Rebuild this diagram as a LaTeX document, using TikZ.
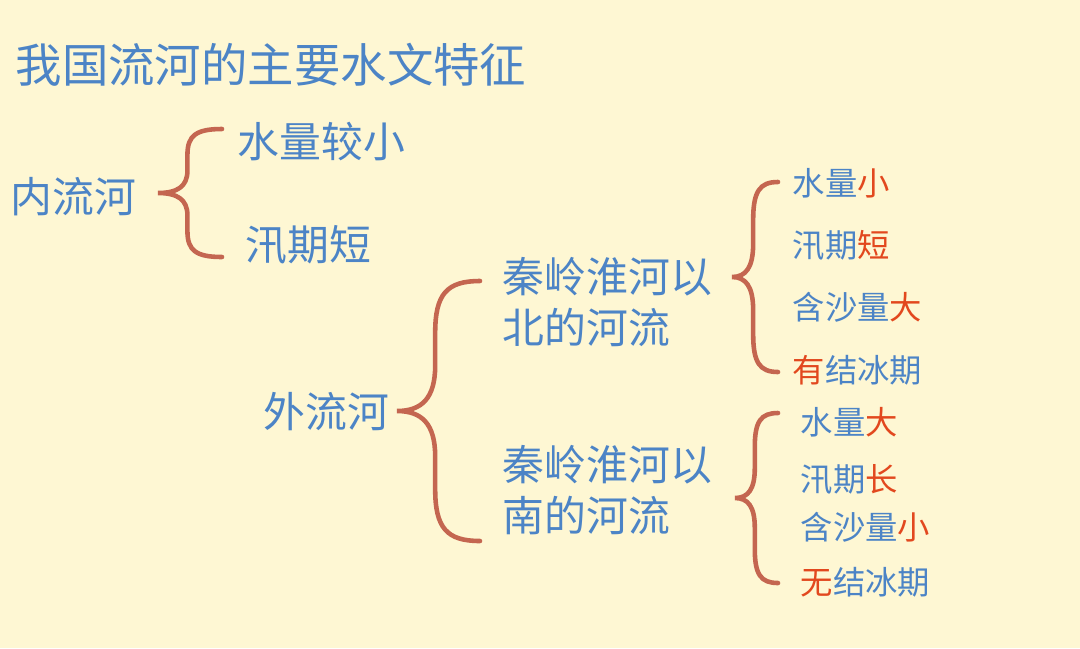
\documentclass[tikz,border=0pt]{standalone}
\usepackage{xcolor}
\usepackage{tikz}
\usepackage{fontspec}
\newfontfamily\cjk{Noto Sans CJK SC}
\definecolor{lan}{RGB}{76,132,198}
\definecolor{hong}{RGB}{226,72,30}
\definecolor{zong}{RGB}{196,102,80}
\definecolor{mihuang}{RGB}{254,247,211}
\tikzset{
  wz/.style={anchor=west, inner sep=0pt, text=lan, font={\cjk\fontsize{11.9}{14.6}\selectfont}, align=left},
  xwz/.style={wz, font={\cjk\fontsize{9.2}{11}\selectfont}},
  kuo/.style={draw=zong, line width=1.3pt, line cap=round}
}
% brace: tip, width, half height
\newcommand{\kuohao}[3]{\draw[kuo,shift={(#1)},xscale=#2,yscale=#3]
  (1,-1) .. controls (0.6,-1) and (0.46,-0.9) .. (0.46,-0.6) -- (0.46,-0.35)
  .. controls (0.46,-0.1) and (0.3,0) .. (0,0)
  .. controls (0.3,0) and (0.46,0.1) .. (0.46,0.35) -- (0.46,0.6)
  .. controls (0.46,0.9) and (0.6,1) .. (1,1);}

\begin{document}
\begin{tikzpicture}[x=0.01cm, y=-0.01cm]
\fill[mihuang] (0,0) rectangle (1080,648);
\useasboundingbox (0,0) rectangle (1080,648);
\node[wz, font={\cjk\fontsize{13.2}{16}\selectfont}] (title) at (15,65) {我国流河的主要水文特征};
% inland rivers
\node[wz] (nei) at (10,197) {内流河};
\node[wz] (nei1) at (237,142) {水量较小};
\node[wz] (nei2) at (245,245) {汛期短};
\coordinate (k1) at (158,193);
\kuohao{k1}{64}{64}
% outflow rivers
\node[wz] (wai) at (263,412) {外流河};
\coordinate (k2) at (397,411);
\kuohao{k2}{83}{130}
\node[wz] (bei) at (502,302) {秦岭淮河以\\北的河流};
\node[wz] (nan) at (502,490) {秦岭淮河以\\南的河流};
\coordinate (k3) at (732,277);
\kuohao{k3}{46}{95}
\node[xwz] (bei1) at (792,183) {水量\textcolor{hong}{小}};
\node[xwz] (bei2) at (792,245) {汛期\textcolor{hong}{短}};
\node[xwz] (bei3) at (792,307) {含沙量\textcolor{hong}{大}};
\node[xwz] (bei4) at (792,370) {\textcolor{hong}{有}结冰期};
\coordinate (k4) at (735,498);
\kuohao{k4}{43}{85}
\node[xwz] (nan1) at (800,422) {水量\textcolor{hong}{大}};
\node[xwz] (nan2) at (800,480) {汛期\textcolor{hong}{长}};
\node[xwz] (nan3) at (800,527) {含沙量\textcolor{hong}{小}};
\node[xwz] (nan4) at (800,582) {\textcolor{hong}{无}结冰期};
\end{tikzpicture}
\end{document}
